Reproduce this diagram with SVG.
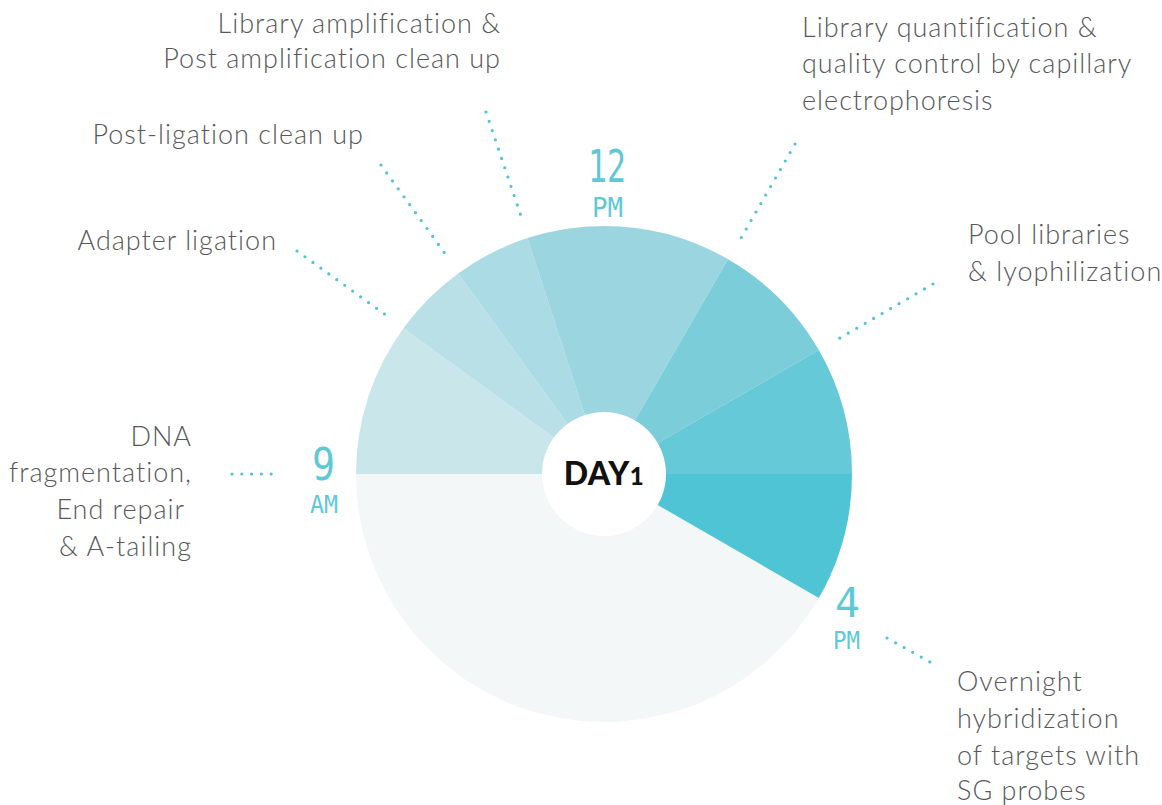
<svg xmlns="http://www.w3.org/2000/svg" width="1162" height="805" viewBox="0 0 1162 805">
<style>
.lbl{font-family:Lato,"Liberation Sans",sans-serif;font-weight:300;font-size:27px;letter-spacing:1px;fill:#58585a}
.end{text-anchor:end}
.clk{font-family:"DejaVu Sans Mono","Liberation Mono",monospace;fill:#5ec8d7}
.dot{fill:none;stroke:#4fc3d5;stroke-width:3.2;stroke-linecap:round;stroke-dasharray:0 9.8}
</style>
<rect width="1162" height="805" fill="#ffffff"/>
<g id="pie">
<path d="M604,474 L818.8,598 A248,248 0 0 1 356,474 Z" fill="#f4f7f7"/>
<path d="M604,474 L356,474 A248,248 0 0 1 403.4,328.2 Z" fill="#c9e6eb"/>
<path d="M604,474 L403.4,328.2 A248,248 0 0 1 458.2,273.4 Z" fill="#b9e0e7"/>
<path d="M604,474 L458.2,273.4 A248,248 0 0 1 527.4,238.1 Z" fill="#abdbe4"/>
<path d="M604,474 L527.4,238.1 A248,248 0 0 1 604,226 Z" fill="#9bd6e0"/>
<path d="M604,474 L604,226 A248,248 0 0 1 728,259.2 Z" fill="#9bd6e0"/>
<path d="M604,474 L728,259.2 A248,248 0 0 1 818.8,350 Z" fill="#7acdd9"/>
<path d="M604,474 L818.8,350 A248,248 0 0 1 852,474 Z" fill="#66c9d8"/>
<path d="M604,474 L852,474 A248,248 0 0 1 818.8,598 Z" fill="#4ec4d5"/>
</g>
<g id="day1">
<circle cx="604" cy="474" r="62" fill="#ffffff"/>
<text x="604" y="485" text-anchor="middle" font-family="Lato,'Liberation Sans',sans-serif" font-weight="900" font-size="32" letter-spacing="0.5" fill="#111111">DAY<tspan font-size="24">1</tspan></text>
</g>
<g id="clock-9am">
<text class="clk" x="312" y="480" font-size="44" textLength="23" lengthAdjust="spacingAndGlyphs">9</text>
<text class="clk" x="310" y="513" font-size="24" textLength="28" lengthAdjust="spacingAndGlyphs">AM</text>
</g>
<g id="clock-12pm">
<text class="clk" x="588" y="182" font-size="44" textLength="38" lengthAdjust="spacingAndGlyphs">12</text>
<text class="clk" x="592" y="217" font-size="26" textLength="31" lengthAdjust="spacingAndGlyphs">PM</text>
</g>
<g id="clock-4pm">
<text class="clk" x="835" y="617" font-size="40" textLength="25" lengthAdjust="spacingAndGlyphs">4</text>
<text class="clk" x="833" y="649" font-size="24" textLength="27" lengthAdjust="spacingAndGlyphs">PM</text>
</g>
<g id="connectors">
<line class="dot" x1="232" y1="474" x2="272" y2="474"/>
<line class="dot" x1="297" y1="251" x2="390" y2="318"/>
<line class="dot" x1="381" y1="165" x2="449" y2="259"/>
<line class="dot" x1="486" y1="112" x2="523" y2="222"/>
<line class="dot" x1="795" y1="144" x2="737" y2="245"/>
<line class="dot" x1="933" y1="284" x2="833" y2="342"/>
<line class="dot" x1="887" y1="638" x2="930" y2="662"/>
</g>
<g id="node-dna">
<text class="lbl end" x="192" y="446">DNA</text>
<text class="lbl end" x="192" y="482">fragmentation,</text>
<text class="lbl end" x="185" y="519">End repair</text>
<text class="lbl end" x="192" y="556">&amp; A-tailing</text>
</g>
<g id="node-adapter">
<text class="lbl end" x="277" y="250">Adapter ligation</text>
</g>
<g id="node-postlig">
<text class="lbl end" x="364" y="144">Post-ligation clean up</text>
</g>
<g id="node-libamp">
<text class="lbl end" x="501" y="33">Library amplification &amp;</text>
<text class="lbl end" x="501" y="68">Post amplification clean up</text>
</g>
<g id="node-libquant">
<text class="lbl" x="802" y="37">Library quantification &amp;</text>
<text class="lbl" x="802" y="73">quality control by capillary</text>
<text class="lbl" x="802" y="110">electrophoresis</text>
</g>
<g id="node-pool">
<text class="lbl" x="968" y="244">Pool libraries</text>
<text class="lbl" x="968" y="281">&amp; lyophilization</text>
</g>
<g id="node-overnight">
<text class="lbl" x="957" y="691">Overnight</text>
<text class="lbl" x="957" y="728">hybridization</text>
<text class="lbl" x="957" y="765">of targets with</text>
<text class="lbl" x="957" y="800">SG probes</text>
</g>
</svg>
